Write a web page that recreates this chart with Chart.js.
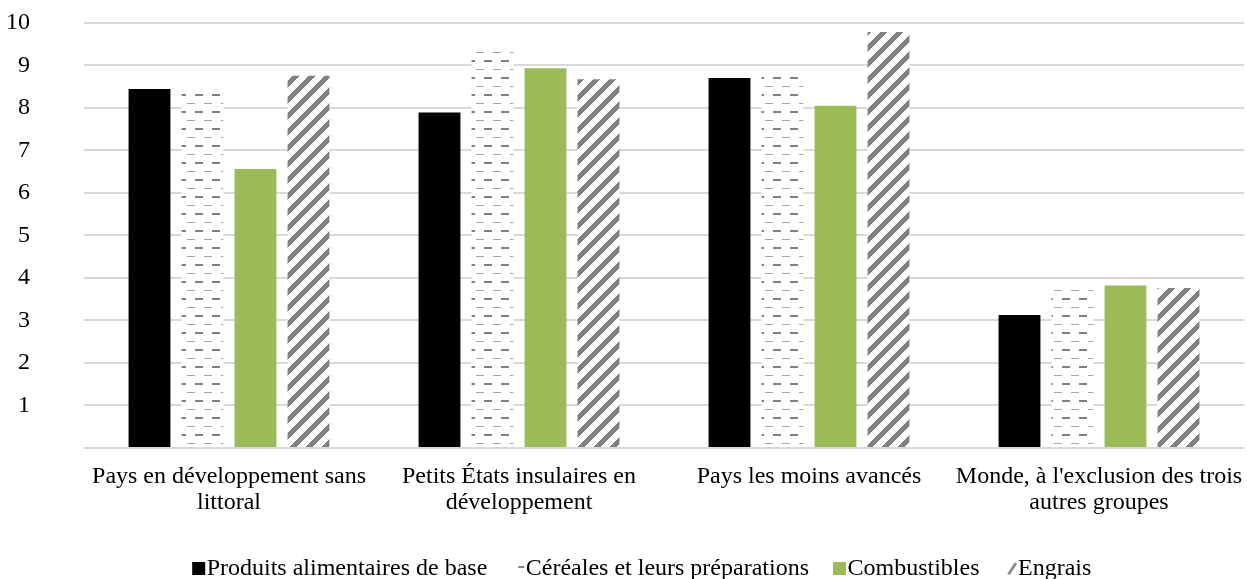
<!DOCTYPE html>
<html lang="fr">
<head>
<meta charset="utf-8">
<title>Groupes de pays</title>
<script src="https://cdn.jsdelivr.net/npm/chart.js@4/dist/chart.umd.min.js"></script>
<style>
  html, body { margin: 0; padding: 0; background: #ffffff; }
  #chart { display: block; }
</style>
</head>
<body>
<canvas id="chart" width="1247" height="579"></canvas>
<script>
// Country groups along the x axis (multi-line labels)
const categories = [
  ['Pays en développement sans', 'littoral'],
  ['Petits États insulaires en', 'développement'],
  ['Pays les moins avancés'],
  ["Monde, à l'exclusion des trois", 'autres groupes']
];

// Series
const seriesNames = [
  'Produits alimentaires de base',
  'Céréales et leurs préparations',
  'Combustibles',
  'Engrais'
];
const produitsAlimentaires = [8.44, 7.89, 8.70, 3.13];
const cereales = [8.42, 9.40, 8.83, 3.82];
const combustibles = [6.56, 8.93, 8.05, 3.82];
const engrais = [8.75, 8.67, 9.78, 3.76];

// Y axis ticks
const yTicks = [0, 1, 2, 3, 4, 5, 6, 7, 8, 9, 10];

const FONT = "'Liberation Serif', 'Times New Roman', serif";
const GREEN = '#9BBB59';
const GRAY = '#808080';

function makeCanvas(w, h) {
  const c = document.createElement('canvas');
  c.width = w; c.height = h;
  return c;
}

// Horizontal dash fill: alternating light/thin and dark/thick dash rows
function dashTile() {
  const c = makeCanvas(17, 17);
  const g = c.getContext('2d');
  g.fillStyle = '#ffffff';
  g.fillRect(0, 0, 17, 17);
  g.fillStyle = '#a6a6a6';
  g.fillRect(0, 1, 8, 1);
  g.fillStyle = GRAY;
  g.fillRect(8, 9, 8, 2);
  return c;
}

// Wide upward diagonal stripes
function hatchTile() {
  const s = 16;
  const c = makeCanvas(s, s);
  const g = c.getContext('2d');
  const img = g.createImageData(s, s);
  for (let y = 0; y < s; y++) {
    for (let x = 0; x < s; x++) {
      const i = (y * s + x) * 4;
      const on = ((x + y) % s) < 7;
      const v = on ? 128 : 255;
      img.data[i] = v; img.data[i + 1] = v; img.data[i + 2] = v; img.data[i + 3] = 255;
    }
  }
  g.putImageData(img, 0, 0);
  return c;
}

// Legend markers: 13x13 swatch placed at the right of a 27px wide image
function legendMark(draw) {
  const c = makeCanvas(27, 13);
  const g = c.getContext('2d');
  draw(g);
  return c;
}
const legendMarks = [
  legendMark(g => { g.fillStyle = '#000000'; g.fillRect(12, 0, 13, 13); }),
  legendMark(g => { g.fillStyle = GRAY; g.fillRect(19, 4, 6, 2); }),
  legendMark(g => { g.fillStyle = GREEN; g.fillRect(12, 0, 13, 13); }),
  legendMark(g => {
    g.strokeStyle = GRAY; g.lineWidth = 2.5;
    g.beginPath(); g.moveTo(17, 12.5); g.lineTo(24.5, 1); g.stroke();
  })
];

// Centre the legend row under the plot area rather than the whole canvas
const legendOffset = {
  id: 'legendOffset',
  afterLayout(chart) {
    if (chart.legend) chart.legend.left += 40;
  }
};

const canvas = document.getElementById('chart');
const ctx = canvas.getContext('2d');
const dashPattern = ctx.createPattern(dashTile(), 'repeat');
const hatchPattern = ctx.createPattern(hatchTile(), 'repeat');

const barOpts = { categoryPercentage: 0.731, barPercentage: 0.79, borderWidth: 0 };

new Chart(ctx, {
  type: 'bar',
  data: {
    labels: categories,
    datasets: [
      Object.assign({ label: seriesNames[0], data: produitsAlimentaires, backgroundColor: '#000000' }, barOpts),
      Object.assign({ label: seriesNames[1], data: cereales, backgroundColor: dashPattern }, barOpts),
      Object.assign({ label: seriesNames[2], data: combustibles, backgroundColor: GREEN }, barOpts),
      Object.assign({ label: seriesNames[3], data: engrais, backgroundColor: hatchPattern }, barOpts)
    ]
  },
  plugins: [legendOffset],
  options: {
    responsive: false,
    animation: false,
    devicePixelRatio: 1,
    layout: { padding: { top: 22.7, left: 0, right: 3, bottom: -11.5 } },
    plugins: {
      tooltip: { enabled: false },
      legend: {
        position: 'bottom',
        align: 'center',
        labels: {
          usePointStyle: true,
          boxWidth: 2,
          boxHeight: 13,
          padding: 24.5,
          color: '#000000',
          font: { family: FONT, size: 24 },
          generateLabels: (chart) => {
            const items = Chart.defaults.plugins.legend.labels.generateLabels(chart);
            items.forEach((it, i) => { it.pointStyle = legendMarks[i]; it.lineWidth = 0; });
            return items;
          }
        }
      }
    },
    scales: {
      x: {
        grid: { display: false, drawTicks: false },
        border: { display: false },
        ticks: {
          color: '#000000',
          padding: 16,
          maxRotation: 0,
          autoSkip: false,
          font: { family: FONT, size: 24, lineHeight: 1.08 }
        },
        afterFit: (scale) => {
          scale.height = 84;
          scale.paddingLeft = 0;
          scale.paddingRight = 0;
        }
      },
      y: {
        min: yTicks[0],
        max: yTicks[yTicks.length - 1],
        afterBuildTicks: (scale) => { scale.ticks = yTicks.map(v => ({ value: v })); },
        grid: { color: '#d9d9d9', lineWidth: 2, drawTicks: false },
        border: { display: false },
        ticks: {
          color: '#000000',
          padding: 54,
          font: { family: FONT, size: 24 },
          callback: (v) => (v === 0 ? '' : String(v))
        },
        afterFit: (scale) => {
          scale.width = 84;
          scale.paddingTop = 0;
          scale.paddingBottom = 0;
        }
      }
    }
  }
});
</script>
</body>
</html>
